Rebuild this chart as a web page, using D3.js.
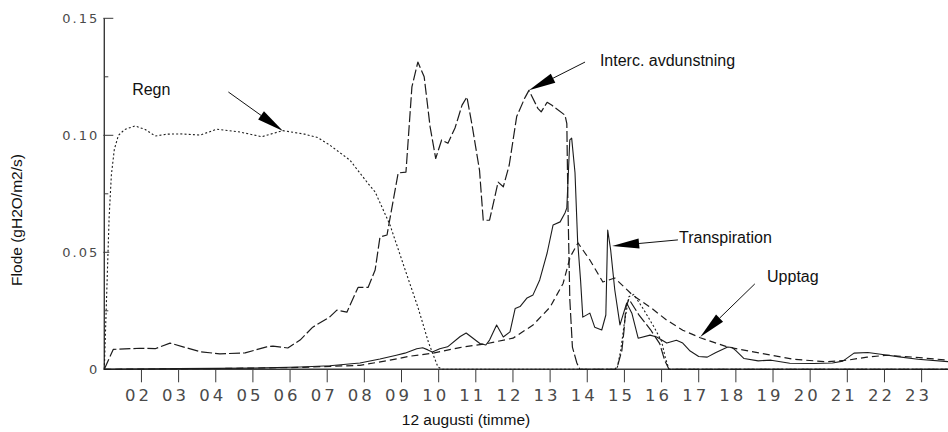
<!DOCTYPE html>
<html>
<head>
<meta charset="utf-8">
<script src="https://cdn.jsdelivr.net/npm/d3@7"></script>
<style>
  html, body { margin: 0; padding: 0; background: #fff; }
  svg { display: block; }
  .tick-lbl { font-family: "DejaVu Sans", sans-serif; font-weight: normal; fill: #4a4a4a; }
  .title { font-family: "Liberation Sans", Arial, sans-serif; fill: #111; }
</style>
</head>
<body>
<svg id="chart" width="948" height="432"></svg>
<script>
// Flux series, [hour of 12 August, gH2O/m2/s]
const regn = [[1.0,0],[1.03,0.015],[1.08,0.04],[1.13,0.065],[1.19,0.083],[1.27,0.094],[1.38,0.1],
  [1.55,0.1025],[1.83,0.104],[2.1,0.1025],[2.37,0.0997],[2.7,0.1005],[3.04,0.1006],[3.58,0.1001],
  [4.03,0.1026],[4.65,0.1014],[5.24,0.0994],[5.8,0.102],[6.39,0.1005],[6.75,0.099],[7.07,0.0958],
  [7.61,0.0894],[8.09,0.0796],[8.29,0.0758],[8.69,0.0617],[9.1,0.0424],[9.44,0.0266],[9.73,0.0113],
  [9.98,0.001],[10.1,0],[14.8,0],[14.9,0.008],[15.0,0.02],[15.12,0.031],[15.25,0.032],[15.5,0.026],
  [15.8,0.018],[16.0,0.012],[16.1,0.005],[16.2,0],[23.71,0]];

const interc = [[1.0,0],[1.24,0.0085],[1.96,0.009],[2.37,0.0088],[2.77,0.0112],[3.12,0.0096],
  [3.58,0.0075],[4.11,0.0066],[4.79,0.007],[5.37,0.0096],[5.54,0.0099],[5.94,0.0091],[6.27,0.0125],
  [6.61,0.018],[7.07,0.0224],[7.26,0.0253],[7.53,0.0244],[7.83,0.035],[8.1,0.035],[8.29,0.0424],
  [8.42,0.0565],[8.61,0.0574],[8.91,0.0839],[9.12,0.0843],[9.28,0.1207],[9.44,0.1313],[9.61,0.125],
  [9.77,0.1036],[9.92,0.0901],[10.08,0.098],[10.25,0.0966],[10.44,0.1031],[10.63,0.1129],
  [10.76,0.1164],[10.9,0.1043],[11.1,0.085],[11.2,0.0637],[11.37,0.0637],[11.6,0.08],[11.74,0.078],
  [11.9,0.0873],[12.1,0.108],[12.32,0.116],[12.43,0.1192],[12.67,0.1115],[12.76,0.11],[12.92,0.1141],
  [13.05,0.1128],[13.4,0.1086],[13.45,0.105],[13.48,0.07],[13.53,0.03],[13.6,0.0095],[13.72,0.0027],
  [13.8,0],[14.75,0],[14.82,0.0017],[14.93,0.008],[14.99,0.0167],[15.04,0.0266],[15.12,0.03],
  [15.4,0.023],[15.7,0.017],[15.95,0.011],[16.08,0.004],[16.2,0],[23.71,0]];

const transpiration = [[1.0,0],[3,0.0003],[5,0.0005],[6.27,0.001],[7.07,0.0015],[7.88,0.0027],
  [8.42,0.0044],[8.86,0.006],[9.09,0.0069],[9.41,0.0088],[9.57,0.0092],[9.71,0.0083],[9.83,0.0074],
  [10.03,0.0088],[10.24,0.0096],[10.58,0.014],[10.74,0.0155],[11.11,0.011],[11.27,0.0104],
  [11.37,0.0125],[11.56,0.0189],[11.74,0.0138],[11.92,0.016],[12.06,0.026],[12.19,0.0268],
  [12.38,0.0305],[12.54,0.0318],[12.72,0.0382],[12.92,0.0497],[13.08,0.0617],[13.27,0.063],
  [13.4,0.0668],[13.45,0.069],[13.53,0.098],[13.58,0.0988],[13.67,0.084],[13.74,0.055],[13.82,0.038],
  [13.88,0.0223],[14.07,0.024],[14.2,0.018],[14.39,0.0168],[14.5,0.0232],[14.55,0.0595],[14.63,0.051],
  [14.74,0.034],[14.88,0.019],[15.06,0.0283],[15.2,0.024],[15.37,0.0133],[15.69,0.0146],
  [15.87,0.0138],[16.14,0.0112],[16.4,0.0124],[16.57,0.0112],[16.77,0.0078],[17.0,0.0055],
  [17.23,0.0052],[17.45,0.0071],[17.78,0.0095],[17.9,0.0093],[18.0,0.008],[18.22,0.0046],
  [18.6,0.0036],[18.95,0.0039],[19.45,0.0026],[20.1,0.0025],[20.6,0.0027],[20.88,0.0035],
  [21.18,0.0069],[21.55,0.0072],[21.9,0.0064],[22.4,0.0053],[22.9,0.0043],[23.71,0.0033]];

const upptag = [[1.0,0],[4,0.0003],[6.27,0.0008],[7.88,0.0017],[8.69,0.0039],[9.23,0.0056],
  [9.85,0.0069],[10.57,0.0093],[11.3,0.011],[12.0,0.0133],[12.54,0.0189],[13.0,0.0266],
  [13.35,0.0367],[13.54,0.048],[13.75,0.054],[14.07,0.0467],[14.42,0.0373],[14.74,0.039],
  [15.22,0.0317],[15.69,0.0266],[16.14,0.021],[16.57,0.0167],[17.04,0.0135],[17.76,0.0096],
  [18.65,0.0069],[19.54,0.0043],[20.45,0.0032],[21.0,0.0039],[21.53,0.0052],[22.07,0.006],
  [22.78,0.0052],[23.71,0.0039]];

const hourTicks = d3.range(2, 24);
const fluxMajor = [0, 0.05, 0.10, 0.15];
const fluxMinor = [0.025, 0.075, 0.125];
const fluxLabels = ["0", "0.05", "0.10", "0.15"];

// Labels with arrows: text anchor, arrow tail, arrow tip (hour, flux)
const notes = [
  { text: "Regn", at: [1.75, 0.1172], from: [4.34, 0.1185], to: [5.81, 0.1018] },
  { text: "Interc. avdunstning", at: [14.34, 0.1296], from: [13.94, 0.1313], to: [12.43, 0.1192] },
  { text: "Transpiration", at: [16.47, 0.0539], from: [16.44, 0.0553], to: [14.67, 0.0527] },
  { text: "Upptag", at: [18.84, 0.0373], from: [18.51, 0.0365], to: [17.04, 0.0138] }
];

const svg = d3.select("#chart");
const x = d3.scaleLinear().domain([1, 23.71]).range([104.3, 948]);
const y = d3.scaleLinear().domain([0, 0.15]).range([369.3, 18.3]);

// axes
const ax = svg.append("g").attr("stroke", "#3a3a3a");
ax.append("line").attr("x1", x(1)).attr("x2", 948).attr("y1", y(0)).attr("y2", y(0)).attr("stroke-width", 1.4);
ax.append("line").attr("x1", x(1)).attr("x2", x(1)).attr("y1", y(0)).attr("y2", y(0.15)).attr("stroke-width", 1.4);
ax.selectAll(".xt").data(hourTicks).join("line")
  .attr("x1", d => x(d)).attr("x2", d => x(d)).attr("y1", y(0)).attr("y2", y(0) + 13).attr("stroke-width", 1);
ax.selectAll(".ymaj").data(fluxMajor).join("line")
  .attr("x1", x(1) - 1).attr("x2", (d, i) => x(1) + (i === 3 || i === 2 ? 9 : 5))
  .attr("y1", d => y(d)).attr("y2", d => y(d)).attr("stroke-width", 1);
ax.selectAll(".ymin").data(fluxMinor).join("line")
  .attr("x1", x(1)).attr("x2", x(1) + 4)
  .attr("y1", d => y(d)).attr("y2", d => y(d)).attr("stroke-width", 1);

svg.append("g").selectAll("text").data(hourTicks).join("text")
  .attr("class", "tick-lbl")
  .attr("x", d => x(d) - 3).attr("y", y(0) + 32)
  .attr("text-anchor", "middle").attr("font-size", 16.5).attr("letter-spacing", 3)
  .text(d => String(d).padStart(2, "0"));

svg.append("g").selectAll("text").data(fluxMajor).join("text")
  .attr("class", "tick-lbl")
  .attr("x", x(1) - 5).attr("y", d => y(d) + 5)
  .attr("text-anchor", "end").attr("font-size", 13).attr("letter-spacing", 2)
  .text((d, i) => fluxLabels[i]);

// axis titles
svg.append("text").attr("class", "title").attr("font-size", 15.5)
  .attr("text-anchor", "middle").attr("transform", "translate(22,220) rotate(-90)")
  .text("Flode (gH2O/m2/s)");
svg.append("text").attr("class", "title").attr("font-size", 15.5)
  .attr("text-anchor", "middle").attr("x", 466).attr("y", 425)
  .text("12 augusti (timme)");

// series
const line = d3.line().x(d => x(d[0])).y(d => y(d[1]));
const series = [
  { data: regn, dash: "2,2.2", w: 1.1 },
  { data: interc, dash: "11,3", w: 1.2 },
  { data: upptag, dash: "7,4", w: 1.2 },
  { data: transpiration, dash: null, w: 1.1 }
];
svg.append("g").selectAll("path").data(series).join("path")
  .attr("d", s => line(s.data))
  .attr("fill", "none").attr("stroke", "#1c1c1c")
  .attr("stroke-width", s => s.w)
  .attr("stroke-dasharray", s => s.dash)
  .attr("stroke-linejoin", "round");

// annotations
const ng = svg.append("g");
notes.forEach(n => {
  const [x0, y0] = [x(n.from[0]), y(n.from[1])];
  const [x1, y1] = [x(n.to[0]), y(n.to[1])];
  const ang = Math.atan2(y1 - y0, x1 - x0);
  const L = 27, W = 5;
  const bx = x1 - L * Math.cos(ang), by = y1 - L * Math.sin(ang);
  const px = -Math.sin(ang) * W, py = Math.cos(ang) * W;
  ng.append("line").attr("x1", x0).attr("y1", y0).attr("x2", bx).attr("y2", by)
    .attr("stroke", "#111").attr("stroke-width", 1);
  ng.append("path")
    .attr("d", `M${x1},${y1}L${bx + px},${by + py}L${bx - px},${by - py}Z`)
    .attr("fill", "#000");
  ng.append("text").attr("class", "title").attr("font-size", 16)
    .attr("x", x(n.at[0])).attr("y", y(n.at[1]))
    .text(n.text);
});
</script>
</body>
</html>
